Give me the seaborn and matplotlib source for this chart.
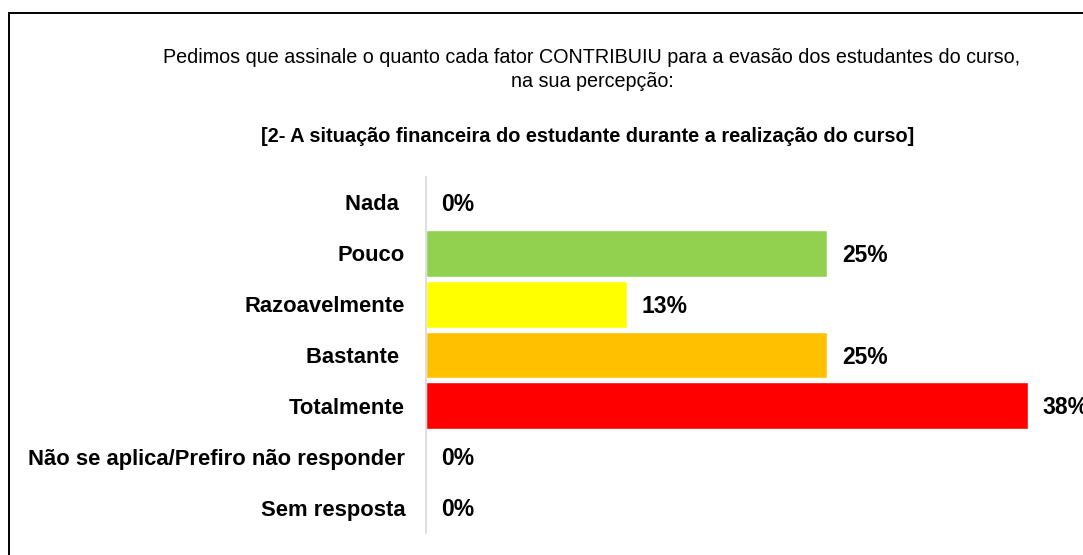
import matplotlib
matplotlib.use("Agg")
import matplotlib.pyplot as plt
from matplotlib import font_manager
from matplotlib.patches import Rectangle
import seaborn as sns
import pandas as pd

# ---- data ----
categories = ["Nada ", "Pouco", "Razoavelmente", "Bastante ", "Totalmente",
              "Não se aplica/Prefiro não responder", "Sem resposta"]
values = [0.0, 0.25, 0.125, 0.25, 0.375, 0.0, 0.0]
colors = ["#A5A5A5", "#92D050", "#FFFF00", "#FFC000", "#FF0000", "#A5A5A5", "#A5A5A5"]
title_lines = ["Pedimos que assinale o quanto cada fator CONTRIBUIU para a evasão dos estudantes do curso,",
               "na sua percepção:"]
subtitle = "[2- A situação financeira do estudante durante a realização do curso]"

sns.set_theme(style="white")
plt.rcParams["font.family"] = ["Liberation Sans", "DejaVu Sans"]

W, H = 1083, 555
fig = plt.figure(figsize=(W / 100, H / 100), dpi=100)
fig.patch.set_facecolor("white")

# frame (top and left visible)
fig.add_artist(Rectangle((8.5 / W, -0.1), 1.2, 1.1 - 13 / H, transform=fig.transFigure,
                         fill=False, edgecolor="black", linewidth=1.4))

ax_left, ax_right = 426 / W, 1050 / W
ax_top, ax_bot = 1 - 177 / H, 1 - 533 / H
ax = fig.add_axes([ax_left, ax_bot, ax_right - ax_left, ax_top - ax_bot])

df = pd.DataFrame({"cat": categories, "val": values})
sns.barplot(data=df, x="val", y="cat", hue="cat", palette=colors, legend=False,
            orient="h", width=0.92, ax=ax, saturation=1)

px_per_unit = 1604.0  # pixels per 100%
ax.set_xlim(0, (1050 - 426) / px_per_unit)
ax.set_ylim(len(categories) - 0.5, -0.5)
ax.set_xlabel("")
ax.set_ylabel("")
ax.set_xticks([])
for s in ["top", "right", "bottom"]:
    ax.spines[s].set_visible(False)
ax.spines["left"].set_color("#D9D9D9")
ax.spines["left"].set_linewidth(1.2)
ax.tick_params(axis="y", length=0, pad=15)
fs = 15.8
vfs = 16.5
for lab in ax.get_yticklabels():
    lab.set_fontweight("bold")
    lab.set_fontsize(fs)
    lab.set_color("black")

for i, v in enumerate(values):
    pct = int(v * 100 + 0.5)
    ax.annotate(f"{pct}%", xy=(v, i), xytext=(15, -2), textcoords="offset pixels",
                ha="left", va="center", fontsize=vfs, fontweight="bold", color="black",
                annotation_clip=False)

fig.text(592 / W, 1 - 57 / H, title_lines[0], ha="center", va="center", fontsize=14.2, color="black")
fig.text(592 / W, 1 - 81 / H, title_lines[1], ha="center", va="center", fontsize=14.2, color="black")
fig.text(588 / W, 1 - 137 / H, subtitle, ha="center", va="center", fontsize=14.4,
         fontweight="bold", color="black")

fig.savefig("out.png", dpi=100, facecolor="white")
